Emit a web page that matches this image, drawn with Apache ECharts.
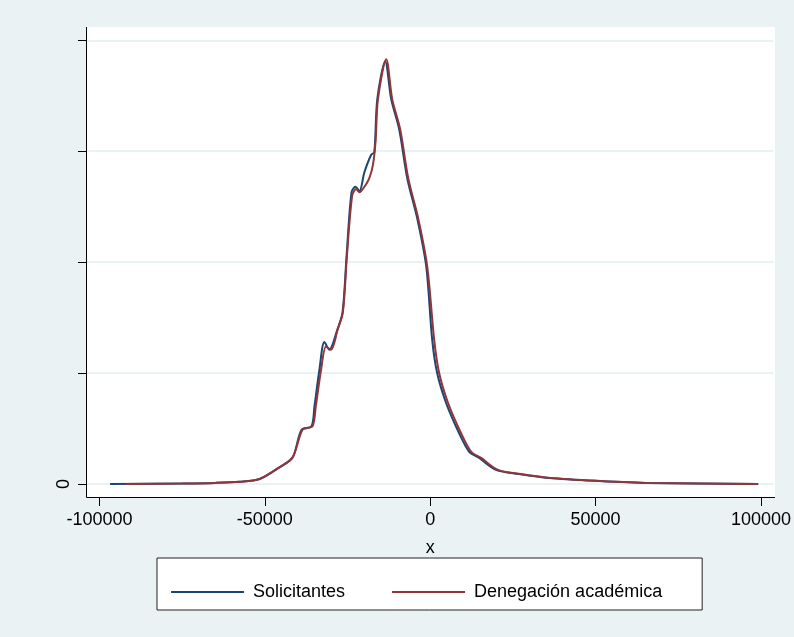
<!DOCTYPE html>
<html>
<head>
<meta charset="utf-8">
<script src="https://cdn.jsdelivr.net/npm/echarts@6/dist/echarts.min.js"></script>
<style>html,body{margin:0;padding:0;background:#EAF2F3;}#c{width:794px;height:637px;}</style>
</head>
<body>
<div id="c"></div>
<script>
// kernel density estimates
const xSolic = [-96800,-75000,-65000,-57600,-51600,-45600,-41600,-38900,-35900,-35000,-33500,-32000,-30500,-28100,-26500,-25300,-23800,-22600,-21400,-19900,-17800,-16900,-16000,-13600,-11800,-9400,-6900,-3900,-1200,600,2100,4800,8700,11800,14800,19900,26800,35900,51000,66100,99200];
const ySolic = [0,0.005,0.01,0.02,0.045,0.15,0.24,0.49,0.52,0.70,1.03,1.28,1.21,1.39,1.55,2.05,2.63,2.68,2.64,2.81,2.97,2.99,3.47,3.81,3.47,3.20,2.75,2.39,1.96,1.30,1.00,0.73,0.46,0.29,0.235,0.127,0.09,0.054,0.027,0.009,0];
const xDeneg = [-92000,-75000,-65000,-57600,-51600,-45600,-41600,-38600,-35600,-34600,-33000,-31500,-30000,-28000,-26400,-25200,-23600,-22400,-21400,-19900,-18500,-17300,-16500,-15800,-13300,-11500,-9100,-6600,-3600,-900,1200,2700,5400,9300,12400,15400,20500,27400,36500,51600,66700,99000];
const yDeneg = [0,0.005,0.01,0.02,0.045,0.15,0.24,0.49,0.52,0.70,1.03,1.24,1.21,1.39,1.55,2.05,2.60,2.66,2.63,2.68,2.75,2.88,3.10,3.47,3.83,3.47,3.20,2.75,2.39,1.96,1.30,1.00,0.73,0.46,0.29,0.235,0.127,0.09,0.054,0.027,0.009,0];
const xTicks = [-100000,-50000,0,50000,100000];
const yTicks = [0,1,2,3,4];

const pairs = (xs, ys) => xs.map((x, i) => [x, ys[i]]);
const chart = echarts.init(document.getElementById('c'));
chart.setOption({
  backgroundColor: '#EAF2F3',
  animation: false,
  textStyle: {fontFamily: 'Liberation Sans, Arial'},
  graphic: [
    {type: 'rect', z: -10, shape: {x: 87, y: 27, width: 688, height: 470}, style: {fill: '#fff'}},
    {type: 'line', z: 10, shape: {x1: 86.5, y1: 27, x2: 86.5, y2: 497.5}, style: {stroke: '#000', lineWidth: 1}},
    {type: 'line', z: 10, shape: {x1: 86.5, y1: 497.5, x2: 775, y2: 497.5}, style: {stroke: '#000', lineWidth: 1}}
  ],
  grid: {left: 87, right: 19, top: 27, bottom: 153},
  xAxis: {
    type: 'value', min: -103770, max: 103770, offset: 13,
    axisLine: {show: false, onZero: false},
    axisTick: {show: true, length: 9, customValues: xTicks, lineStyle: {color: '#000'}},
    axisLabel: {customValues: xTicks, color: '#000', fontSize: 18, margin: 14, formatter: v => String(v)},
    splitLine: {show: false},
    name: 'x', nameLocation: 'middle', nameGap: 42, nameTextStyle: {color: '#000', fontSize: 18}
  },
  yAxis: {
    type: 'value', min: 0, max: 4.12, interval: 1, position: 'left',
    axisLine: {show: false, onZero: false},
    axisTick: {show: true, length: 9, customValues: yTicks, lineStyle: {color: '#000'}},
    axisLabel: {rotate: 90, color: '#000', fontSize: 18, margin: 14, customValues: [0], formatter: v => v === 0 ? '0' : ''},
    splitLine: {lineStyle: {color: '#EAF2F3', width: 2}}
  },
  legend: {
    left: 157, top: 558,
    backgroundColor: '#fff', borderColor: '#222', borderWidth: 1,
    padding: [25, 40, 9, 14], itemGap: 47,
    itemWidth: 73, itemHeight: 2, icon: 'rect',
    textStyle: {color: '#000', fontSize: 18, padding: [0, 0, 0, 4]},
    data: ['Solicitantes', 'Denegación académica']
  },
  series: [
    {name: 'Solicitantes', type: 'line', data: pairs(xSolic, ySolic), showSymbol: false, smooth: 0.3,
     lineStyle: {color: '#1A476F', width: 2}, itemStyle: {color: '#1A476F'}},
    {name: 'Denegación académica', type: 'line', data: pairs(xDeneg, yDeneg), showSymbol: false, smooth: 0.3,
     lineStyle: {color: '#90353B', width: 2}, itemStyle: {color: '#90353B'}}
  ]
});
</script>
</body>
</html>
